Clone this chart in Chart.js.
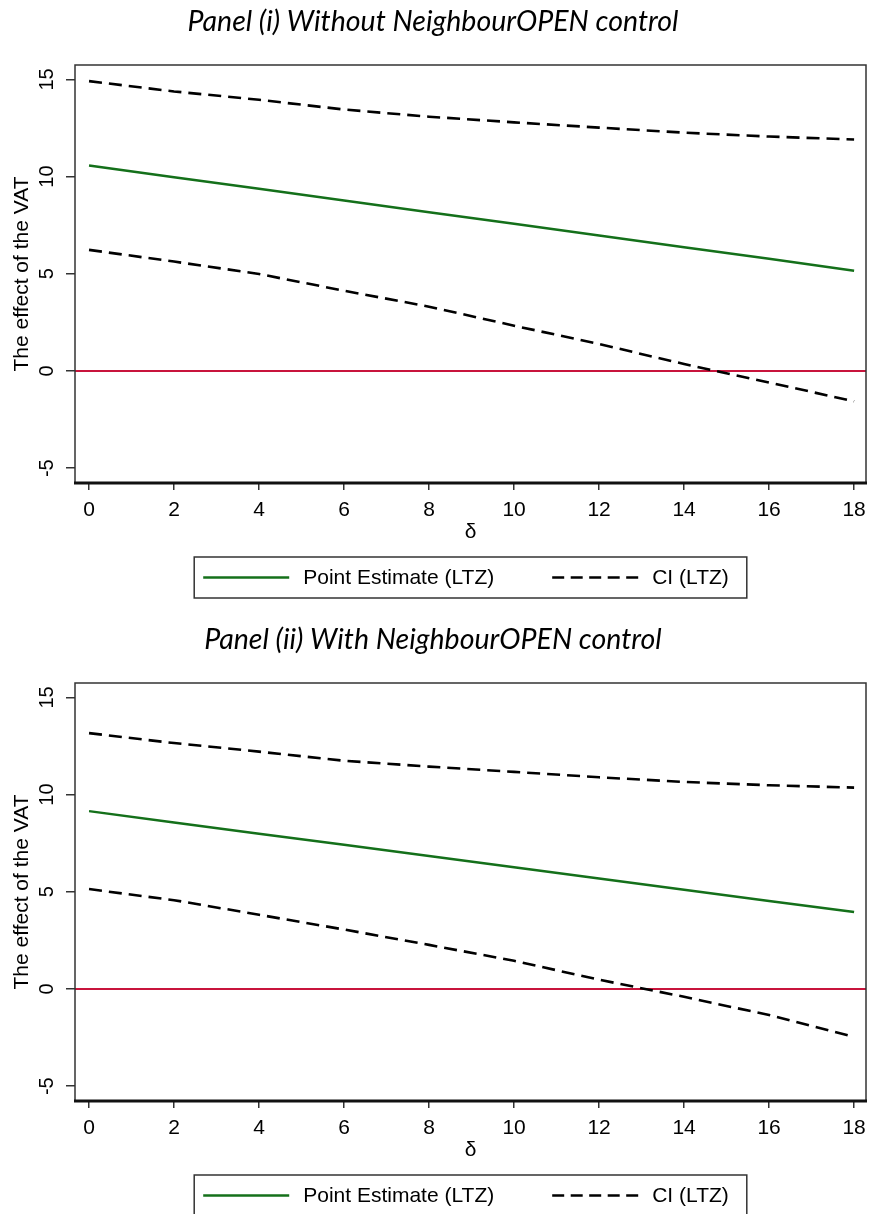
<!DOCTYPE html>
<html>
<head>
<meta charset="utf-8">
<script src="https://cdn.jsdelivr.net/npm/chart.js@4.4.1/dist/chart.umd.min.js"></script>
<style>
    body { margin: 0; background: #fff; width: 869px; height: 1214px; overflow: hidden; position: relative; }
    .panel { position: absolute; left: 0; width: 869px; height: 607px; }
</style>
</head>
<body>
<div class="panel" style="top: 0;"><canvas id="chart1"></canvas></div>
<div class="panel" style="top: 618px;"><canvas id="chart2"></canvas></div>

<script>
// Values (delta on x, effect on y)
const deltas = [0, 2, 4, 6, 8, 10, 12, 14, 16, 18];
const xTicks = [0, 2, 4, 6, 8, 10, 12, 14, 16, 18];
const yTicks = [-5, 0, 5, 10, 15];

// Panel (i)
const pointEst1 = [10.57, 9.97, 9.37, 8.77, 8.17, 7.57, 6.97, 6.37, 5.77, 5.16];
const ciUpper1 = [14.91, 14.38, 13.95, 13.45, 13.08, 12.79, 12.52, 12.26, 12.06, 11.91];
const ciLower1 = [6.23, 5.63, 4.99, 4.13, 3.31, 2.33, 1.39, 0.36, -0.59, -1.56];

// Panel (ii)
const pointEst2 = [9.15, 8.57, 7.99, 7.42, 6.84, 6.26, 5.68, 5.11, 4.53, 3.96];
const ciUpper2 = [13.16, 12.65, 12.21, 11.74, 11.44, 11.17, 10.89, 10.65, 10.48, 10.36];
const ciLower2 = [5.14, 4.57, 3.82, 3.06, 2.27, 1.45, 0.48, -0.40, -1.34, -2.46];

const panelTitles = ['Panel (i) Without NeighbourOPEN control', 'Panel (ii) With NeighbourOPEN control'];
const legendLabels = ['Point Estimate (LTZ)', 'CI (LTZ)'];
const yTitle = 'The effect of the VAT';
const xTitle = 'δ';

const GREEN = '#14701a';
const ZERO_RED = '#c8143c';
const REGULAR = '"Liberation Sans", Arial, sans-serif';

function toXY(values) {
    return deltas.map((d, i) => ({ x: d, y: values[i] }));
}

// Zero line, frame, rotated y tick labels and the boxed legend
const panelPlugin = {
    id: 'panelPlugin',
    beforeDatasetsDraw(chart) {
        const { ctx, chartArea: a, scales: { y } } = chart;
        const y0 = y.getPixelForValue(0);
        ctx.save();
        ctx.strokeStyle = ZERO_RED;
        ctx.lineWidth = 2.2;
        ctx.beginPath();
        ctx.moveTo(a.left, y0);
        ctx.lineTo(a.right, y0);
        ctx.stroke();
        ctx.restore();
    },
    afterDraw(chart) {
        const { ctx, chartArea: a, scales: { y } } = chart;
        ctx.save();

        // plot frame
        ctx.strokeStyle = '#333';
        ctx.lineWidth = 1.5;
        ctx.strokeRect(a.left, a.top, a.right - a.left, a.bottom - a.top);
        ctx.strokeStyle = '#111';
        ctx.lineWidth = 3;
        ctx.beginPath();
        ctx.moveTo(a.left - 1, a.bottom);
        ctx.lineTo(a.right + 1, a.bottom);
        ctx.stroke();

        // y tick labels, turned like the original
        ctx.fillStyle = '#000';
        ctx.font = '20px ' + REGULAR;
        ctx.textAlign = 'center';
        ctx.textBaseline = 'middle';
        y.ticks.forEach(t => {
            ctx.save();
            ctx.translate(47, y.getPixelForValue(t.value));
            ctx.rotate(-Math.PI / 2);
            ctx.fillText(String(t.value), 0, 0);
            ctx.restore();
        });

        // legend box
        const ds = chart.data.datasets;
        ctx.font = '21px ' + REGULAR;
        const w1 = ctx.measureText(legendLabels[0]).width;
        const w2 = ctx.measureText(legendLabels[1]).width;
        const total = 9 + 86 + 14 + w1 + 58 + 86 + 14 + w2 + 18;
        const left = (a.left + a.right) / 2 - total / 2;
        const top = a.bottom + 74;
        const h = 41;
        ctx.strokeStyle = '#333';
        ctx.lineWidth = 1.5;
        ctx.strokeRect(left, top, total, h);

        const cy = top + h / 2;
        let px = left + 9;
        ctx.lineWidth = 2.5;
        ctx.strokeStyle = ds[0].borderColor;
        ctx.setLineDash([]);
        ctx.beginPath();
        ctx.moveTo(px, cy);
        ctx.lineTo(px + 86, cy);
        ctx.stroke();
        px += 86 + 14;
        ctx.textAlign = 'left';
        ctx.fillText(legendLabels[0], px, cy + 1);
        px += w1 + 58;
        ctx.strokeStyle = ds[1].borderColor;
        ctx.lineWidth = 2.6;
        ctx.setLineDash([12, 6.5]);
        ctx.beginPath();
        ctx.moveTo(px, cy);
        ctx.lineTo(px + 86, cy);
        ctx.stroke();
        ctx.setLineDash([]);
        px += 86 + 14;
        ctx.fillText(legendLabels[1], px, cy + 1);

        ctx.restore();
    }
};

function makeChart(canvasId, title, point, upper, lower) {
    const ctx = document.getElementById(canvasId).getContext('2d');
    return new Chart(ctx, {
        type: 'line',
        data: {
            datasets: [
                { label: legendLabels[0], data: toXY(point), borderColor: GREEN, borderWidth: 2.5, pointRadius: 0, tension: 0 },
                { label: legendLabels[1], data: toXY(upper), borderColor: '#000', borderWidth: 2.6, borderDash: [13, 7], pointRadius: 0, tension: 0 },
                { label: legendLabels[1], data: toXY(lower), borderColor: '#000', borderWidth: 2.6, borderDash: [13, 7], pointRadius: 0, tension: 0 }
            ]
        },
        options: {
            responsive: true,
            maintainAspectRatio: false,
            animation: false,
            layout: { padding: { left: 0, right: 3, top: 0, bottom: 52 } },
            plugins: {
                legend: { display: false },
                tooltip: { enabled: false },
                title: {
                    display: true,
                    text: title,
                    color: '#000',
                    font: { family: 'Lato', size: 28.5, style: 'italic', weight: 'normal' },
                    padding: { top: 5, bottom: 25.8 }
                }
            },
            scales: {
                x: {
                    type: 'linear',
                    min: -0.33,
                    max: 18.28,
                    afterBuildTicks: scale => { scale.ticks = xTicks.map(v => ({ value: v })); },
                    afterFit: scale => {
                        scale.height = 72;
                        scale.paddingLeft = 0;
                        scale.paddingRight = 0;
                    },
                    grid: { drawOnChartArea: false, drawTicks: true, tickLength: 7, color: '#333', lineWidth: 1.5 },
                    border: { display: false },
                    ticks: { color: '#000', font: { family: REGULAR, size: 21 }, padding: 8, maxRotation: 0, autoSkip: false },
                    title: { display: true, text: xTitle, color: '#000', font: { family: REGULAR, size: 21 }, padding: { top: 0, bottom: 10 } }
                },
                y: {
                    min: -5.76,
                    max: 15.74,
                    afterBuildTicks: scale => { scale.ticks = yTicks.map(v => ({ value: v })); },
                    afterFit: scale => { scale.width = 75; },
                    grid: { drawOnChartArea: false, drawTicks: true, tickLength: 9, color: '#333', lineWidth: 1.5 },
                    border: { display: false },
                    ticks: { display: false },
                    title: { display: true, text: yTitle, color: '#000', font: { family: REGULAR, size: 21 }, padding: { top: 10, bottom: 0 } }
                }
            }
        },
        plugins: [panelPlugin]
    });
}

document.addEventListener('DOMContentLoaded', () => {
    makeChart('chart1', panelTitles[0], pointEst1, ciUpper1, ciLower1);
    makeChart('chart2', panelTitles[1], pointEst2, ciUpper2, ciLower2);
});
</script>
</body>
</html>
